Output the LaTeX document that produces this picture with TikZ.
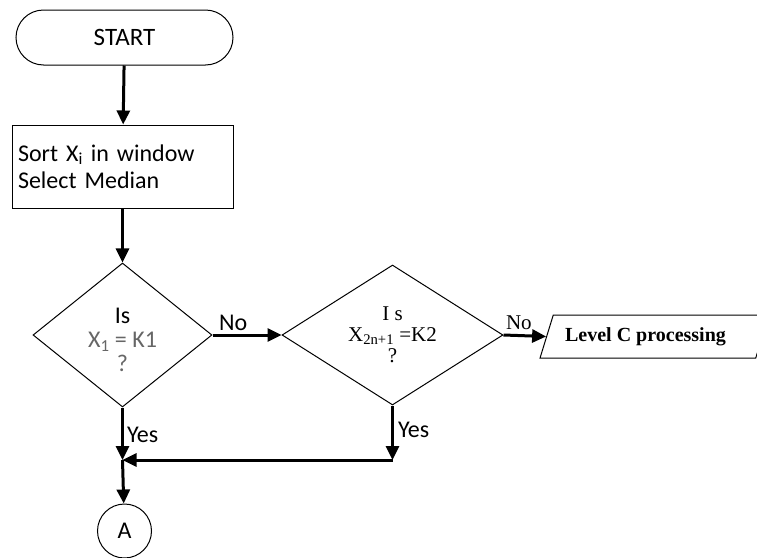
\documentclass[tikz,border=0pt]{standalone}
\usepackage{fontspec}
\usetikzlibrary{shapes.geometric,shapes.misc,arrows.meta}
\newfontfamily\calib{Carlito}
\newfontfamily\tnr{Liberation Serif}
\tikzset{
    every node/.style={font=\calib\fontsize{24}{24}\selectfont},
    term/.style={
        rounded rectangle,
        draw,
        line width=1pt,
        minimum width=217pt,
        minimum height=55pt,
        inner sep=0pt,
        font=\calib\fontsize{25}{25}\selectfont
    },
    proc/.style={
        rectangle,
        draw,
        line width=1pt,
        minimum width=221pt,
        minimum height=83pt,
        text width=209pt,
        inner xsep=6pt,
        align=left,
        font=\calib\fontsize{24}{27}\selectfont
    },
    dec/.style={
        diamond,
        draw,
        line width=1pt,
        inner sep=0pt,
        align=center
    },
    io/.style={
        trapezium,
        trapezium left angle=63,
        trapezium right angle=117,
        trapezium stretches=true,
        draw,
        line width=1pt,
        minimum width=229pt,
        minimum height=43pt,
        inner sep=0pt,
        font=\tnr\bfseries\fontsize{20}{24}\selectfont
    },
    conn/.style={circle,draw,line width=1pt,minimum size=54pt,inner sep=0pt},
    arr/.style={line width=3pt,-{Triangle[length=14pt,width=13pt]}},
    lbl/.style={inner sep=0pt}
}
\newcommand{\graytext}[1]{\textcolor{black!60}{#1}}

\begin{document}
\begin{tikzpicture}[x=1pt,y=-1pt]
        \useasboundingbox (0,0) rectangle (757,557);
        \clip (0,0) rectangle (757,557);
        \node[term] (start) at (124.5,37.5) {\raisebox{-3pt}{START}};
        \node[proc] (sort) at (122.5,166.5) {Sort X\textsubscript{i} in window\\Select Median};
        \node[dec,minimum width=179pt,minimum height=144pt] (isk1) at (122.5,335)
            {\rule{0pt}{26pt}Is\\\graytext{X\textsubscript{1} = K1}\\\graytext{?}};
        \node[dec,shape aspect=1.58,minimum width=221pt,minimum height=140pt,
            font=\tnr\fontsize{21}{21}\selectfont] (isk2) at (392.5,335)
            {I s\\X\textsubscript{2n+1} =K2\\?};
        \node[io] (levelc) at (654.5,336.5) {\hspace*{-18pt}Level C processing};
        \node[conn] (a) at (124.5,531) {A};
        \coordinate (yes2) at (392.5,460);
        \coordinate (join) at (122.5,460);
        \draw[arr] (start) -- (sort);
        \draw[arr] (sort) -- (isk1);
        \draw[arr] (isk1.east) -- node[lbl,at start,anchor=south west,xshift=5pt,yshift=3pt] (no1) {No} (isk2.west);
        \draw[arr] (isk2.east) -- node[lbl,at start,anchor=south west,xshift=1pt,yshift=4pt,font=\tnr\fontsize{21}{21}\selectfont] (no2) {No} (levelc.west);
        \draw[arr] (isk1.south) -- node[lbl,pos=0.53,anchor=west,xshift=3pt] (yes1lbl) {Yes} (join);
        \draw[arr] (isk2.south) -- node[lbl,pos=0.45,anchor=west,xshift=4pt] (yes2lbl) {Yes} (yes2);
        \draw[arr] (yes2) -- (join);
        \draw[arr] (join) -- (a);
    \end{tikzpicture}
\end{document}
